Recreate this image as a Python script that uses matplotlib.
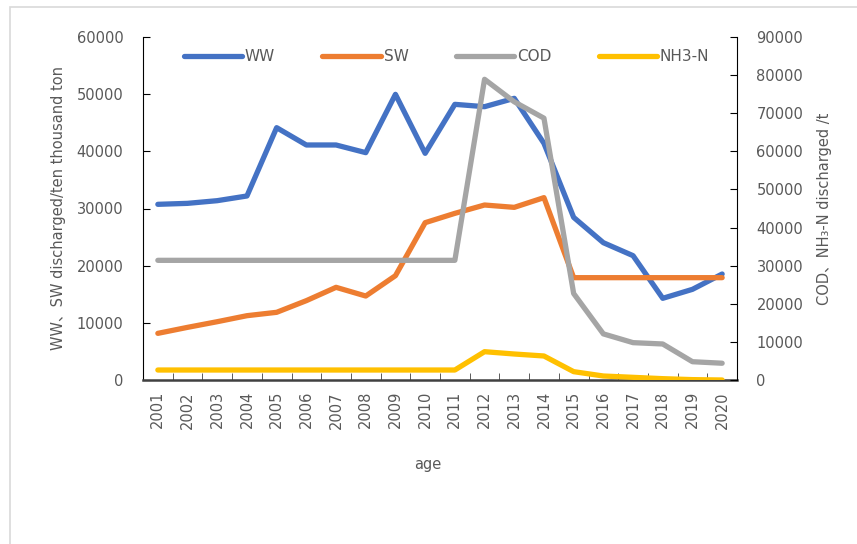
import numpy as np
import matplotlib
matplotlib.use("Agg")
import matplotlib.pyplot as plt
from matplotlib.patches import Rectangle

plt.rcParams['font.family'] = ['DejaVu Sans', 'Noto Sans CJK SC']

years = [str(y) for y in range(2001, 2021)]
ww = [30730, 30900, 31370, 32190, 44140, 41110, 41110, 39770, 49970, 39650,
      48220, 47810, 49270, 41400, 28450, 24020, 21750, 14290, 15860, 18540]
sw = [8160, 9210, 10200, 11250, 11840, 13880, 16210, 14690, 18250, 27520,
      29150, 30610, 30200, 31900, 17900, 17900, 17900, 17900, 17900, 17900]
cod = [31400, 31400, 31400, 31400, 31400, 31400, 31400, 31400, 31400, 31400,
       31400, 78900, 73000, 68700, 22700, 12100, 9800, 9450, 4800, 4400]
nh3n = [2620, 2620, 2620, 2620, 2620, 2620, 2620, 2620, 2620, 2620,
        2620, 7430, 6820, 6300, 2190, 1050, 700, 350, 100, 0]

c_ww = '#4472C4'
c_sw = '#ED7D31'
c_cod = '#A5A5A5'
c_nh = '#FFC000'
tc = '#595959'
fs = 10.5

fig = plt.figure(figsize=(8.57, 5.44), dpi=100)
ax = fig.add_axes([143/857, 1-380/544, 594/857, 343/544])
ax2 = ax.twinx()

x = np.arange(len(years))
lw = 3.8
kw = dict(lw=lw, solid_capstyle='round', solid_joinstyle='round')
l1, = ax.plot(x, ww, color=c_ww, label='WW', **kw)
l2, = ax.plot(x, sw, color=c_sw, label='SW', **kw)
l3, = ax2.plot(x, cod, color=c_cod, label='COD', **kw)
l4, = ax2.plot(x, nh3n, color=c_nh, label='NH3-N', **kw)

ax.set_xlim(-0.5, len(years) - 0.5)
ax.set_ylim(0, 60000)
ax2.set_ylim(0, 90000)
ax.set_yticks(np.arange(0, 60001, 10000))
ax2.set_yticks(np.arange(0, 90001, 10000))

ax.set_xticks(x)
ax.set_xticklabels(years, rotation=90)
ax.set_xticks(np.arange(-0.5, len(years), 1), minor=True)
ax.tick_params(axis='x', which='major', length=0, pad=8, labelsize=fs, labelcolor=tc)
ax.tick_params(axis='x', which='minor', length=5, direction='in', color='#404040')
ax.tick_params(axis='y', direction='in', length=5, labelsize=fs, labelcolor=tc, pad=14)
ax2.tick_params(axis='y', direction='in', length=5, labelsize=fs, labelcolor=tc, pad=14)

for a in (ax, ax2):
    a.spines['top'].set_visible(False)
ax.spines['left'].set_color('black')
ax2.spines['right'].set_color('black')
ax.spines['bottom'].set_color('#404040')
ax.spines['bottom'].set_linewidth(1.8)
ax2.spines['bottom'].set_visible(False)
ax2.spines['left'].set_visible(False)
ax.spines['right'].set_visible(False)

ax.set_ylabel('WW、SW discharged/ten thousand ton', fontsize=fs, color=tc, labelpad=8)
ax2.set_ylabel('COD、NH₃-N discharged /t', fontsize=fs, color=tc, labelpad=10)
ax.set_xlabel('age', fontsize=fs, color=tc)
ax.xaxis.set_label_coords((428-143)/594, -0.225)

ax2.legend(handles=[l1, l2, l3, l4], loc='center', bbox_to_anchor=(0.511, 0.942),
           ncol=4, frameon=False, fontsize=11, handlelength=3.8, handletextpad=0.2,
           columnspacing=3.1, labelcolor=tc)

fig.patches.append(Rectangle((10/857, -0.1), 1.2, 1.1 - 7/544, transform=fig.transFigure,
                             fill=False, edgecolor='#D9D9D9', lw=1.2))

fig.savefig('out.png', dpi=100)
